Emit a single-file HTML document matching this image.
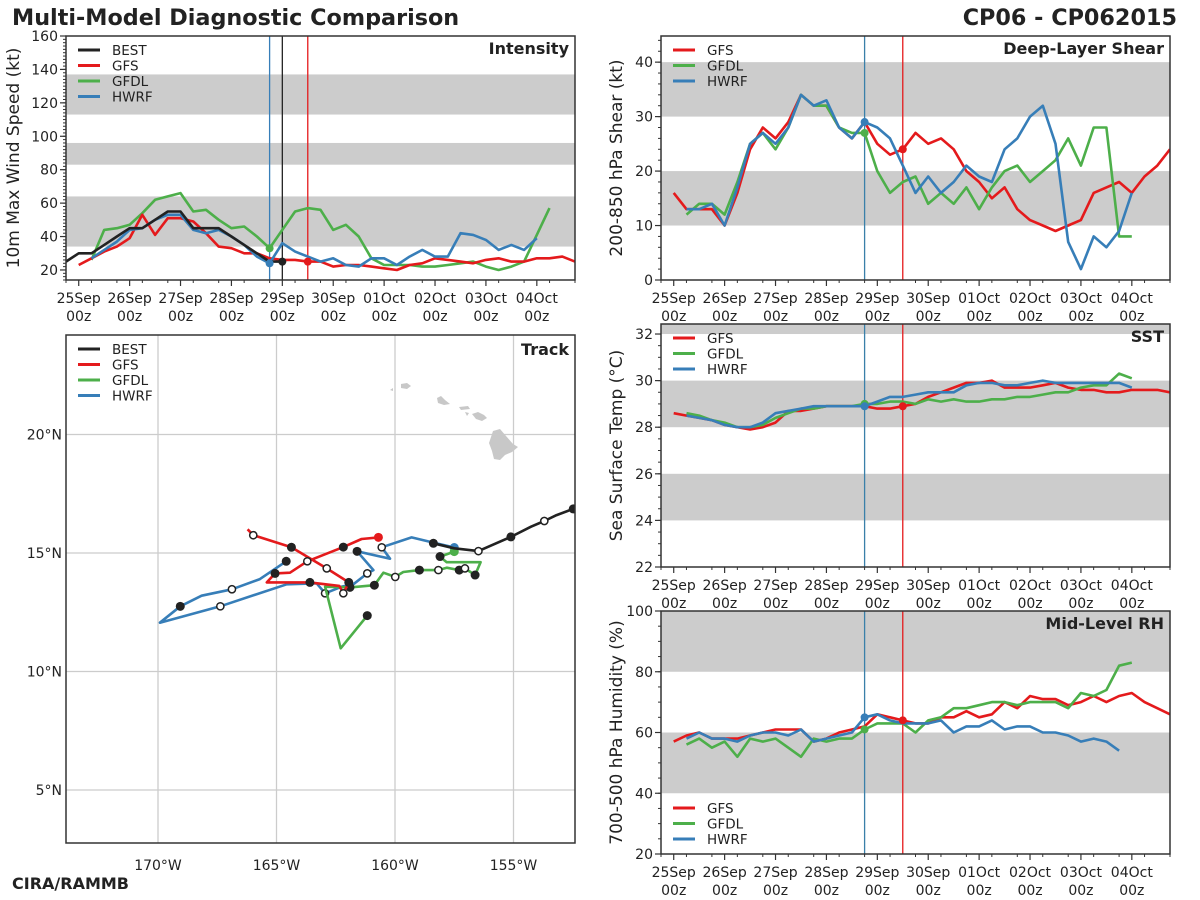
<!DOCTYPE html>
<html><head><meta charset="utf-8">
<style>
html,body{margin:0;padding:0;background:#fff;}
svg{display:block;font-family:"DejaVu Sans","Liberation Sans",sans-serif;}
</style></head>
<body>
<svg id="fig" width="1200" height="900" viewBox="0 0 1200 900" xmlns="http://www.w3.org/2000/svg">
<text x="12" y="25" font-size="22.3" font-weight="bold" fill="#222">Multi-Model Diagnostic Comparison</text>
<text x="1177" y="25" font-size="22.3" font-weight="bold" fill="#222" text-anchor="end">CP06 - CP062015</text>
<text x="12" y="889" font-size="16" font-weight="bold" fill="#222">CIRA/RAMMB</text>
</svg>
<script>
// ---------- time series data (6-hourly) ----------
const dayLabels = ["25Sep","26Sep","27Sep","28Sep","29Sep","30Sep","01Oct","02Oct","03Oct","04Oct"];
const intBestStart = -6;
const intBest = [25,30,30,35,40,45,45,50,55,55,45,45,45,40,35,30,25,25];
const intGfsStart = 0;
const intGfs = [23,27,31,34,39,53,41,51,51,49,42,34,33,30,30,27,26,26,25,25,22,23,23,22,21,20,23,24,27,26,25,24,26,27,25,25,27,27,28,25,29];
const intGfdlStart = 6;
const intGfdl = [26,44,45,47,54,62,64,66,55,56,50,45,46,40,33,44,55,57,56,44,47,40,27,23,23,23,22,22,23,24,25,22,20,22,25,41,57];
const intHwrfStart = 6;
const intHwrf = [27,32,37,44,45,50,53,53,44,42,44,40,35,28,24,36,31,28,25,27,23,22,27,27,23,28,32,28,28,42,41,38,32,35,32,39];

const shrGfsStart = 0;
const shrGfs = [16,13,13,13,10,16,24,28,26,29,34,32,32,28,26,29,25,23,24,27,25,26,24,20,18,15,17,13,11,10,9,10,11,16,17,18,16,19,21,24];
const shrGfdlStart = 6;
const shrGfdl = [12,14,14,12,18,25,27,24,28,34,32,32,28,27,27,20,16,18,19,14,16,14,17,13,17,20,21,18,20,22,26,21,28,28,8,8];
const shrHwrfStart = 6;
const shrHwrf = [13,13,14,10,17,25,27,25,28,34,32,33,28,26,29,28,26,21,16,19,16,18,21,19,18,24,26,30,32,25,7,2,8,6,9,16];

const sstGfsStart = 0;
const sstGfs = [28.6,28.5,28.4,28.3,28.1,28.0,27.9,28.0,28.2,28.7,28.7,28.8,28.9,28.9,28.9,28.9,28.8,28.8,28.9,29.0,29.3,29.5,29.7,29.9,29.9,30.0,29.7,29.7,29.7,29.8,29.9,29.7,29.6,29.6,29.5,29.5,29.6,29.6,29.6,29.5];
const sstGfdlStart = 6;
const sstGfdl = [28.6,28.5,28.3,28.2,28.0,28.0,28.1,28.4,28.6,28.8,28.8,28.9,28.9,28.9,29.0,29.0,29.1,29.1,29.0,29.2,29.1,29.2,29.1,29.1,29.2,29.2,29.3,29.3,29.4,29.5,29.5,29.7,29.8,29.8,30.3,30.1];
const sstHwrfStart = 6;
const sstHwrf = [28.5,28.4,28.3,28.1,28.0,28.0,28.2,28.6,28.7,28.8,28.9,28.9,28.9,28.9,28.9,29.1,29.3,29.3,29.4,29.5,29.5,29.5,29.8,29.9,29.9,29.8,29.8,29.9,30.0,29.9,29.9,29.9,29.9,29.9,29.9,29.7];

const rhGfsStart = 0;
const rhGfs = [57,59,60,58,58,58,59,60,61,61,61,57,58,60,61,62,66,65,64,63,63,65,65,67,65,66,70,68,72,71,71,69,70,72,70,72,73,70,68,66];
const rhGfdlStart = 6;
const rhGfdl = [56,58,55,57,52,58,57,58,55,52,58,57,58,58,61,63,63,63,60,64,65,68,68,69,70,70,69,70,70,70,68,73,72,74,82,83];
const rhHwrfStart = 6;
const rhHwrf = [58,60,58,58,57,59,60,60,59,61,57,58,59,60,65,66,64,63,63,63,64,60,62,62,64,61,62,62,60,60,59,57,58,57,54];

// ---------- track data (lon, lat) ----------
const bestLon = [-152.48,-153.18,-153.70,-154.26,-155.11,-156.48,-157.50,-158.38];
const bestLat = [16.86,16.60,16.35,16.11,15.68,15.08,15.20,15.41];
const bestFilled = [0,4,7];
const bestOpen = [2,5];
const gfsLon = [-160.70,-161.41,-162.18,-163.70,-164.43,-165.06,-165.41,-163.59,-162.35,-162.18,-161.95,-162.88,-164.37,-165.98,-166.22];
const gfsLat = [15.66,15.59,15.25,14.65,14.17,14.14,13.76,13.76,13.61,13.30,13.76,14.35,15.24,15.75,16.00];
const gfsFilled = [2,5,7,10,12];
const gfsOpen = [3,9,11,13];
const hwrfLon = [-157.50,-158.38,-159.30,-160.56,-160.21,-161.60,-160.91,-161.17,-161.76,-162.25,-162.95,-163.31,-164.57,-167.37,-169.92,-169.06,-168.16,-166.88,-165.70,-164.59];
const hwrfLat = [15.23,15.44,15.66,15.24,14.76,15.07,14.28,14.14,13.68,13.58,13.30,13.72,13.68,12.75,12.06,12.75,13.20,13.47,13.90,14.65];
const hwrfFilled = [5,15,19];
const hwrfOpen = [3,7,10,13,17];
const gfdlLon = [-157.50,-158.10,-157.82,-156.39,-156.62,-157.05,-157.29,-157.82,-158.17,-158.97,-159.65,-159.99,-160.49,-160.87,-161.90,-162.95,-162.29,-161.17];
const gfdlLat = [15.06,14.85,14.61,14.61,14.07,14.35,14.28,14.38,14.28,14.28,14.20,13.99,14.17,13.64,13.55,13.58,10.98,12.36];
const gfdlFilled = [1,4,6,9,13,14,17];
const gfdlOpen = [5,8,11];

const latTicks = [5,10,15,20];
const lonTicks = [-170,-165,-160,-155];

const C = {BEST:"#222222",GFS:"#e41a1c",GFDL:"#4daf4a",HWRF:"#377eb8"};
const NS = "http://www.w3.org/2000/svg";
const fig = document.getElementById('fig');
function el(tag, attrs, parent){
  const e = document.createElementNS(NS, tag);
  for (const k in attrs) e.setAttribute(k, attrs[k]);
  (parent||fig).appendChild(e);
  return e;
}

function panel(p){
  const g = el('g',{});
  
  
  const X = h => p.x0 + (h - (-6)) * (p.x1 - p.x0) / 240;
  const Y = v => p.y1 - (v - p.ymin) * (p.y1 - p.y0) / (p.ymax - p.ymin);
  const clip = 'clip-' + p.name;
  const cp = el('clipPath',{id:clip},g);
  el('rect',{x:p.x0,y:p.y0,width:p.x1-p.x0,height:p.y1-p.y0},cp);
  p.bands.forEach(b=>{
    const top = Math.max(Y(b[1]), p.y0);
    const r = el('rect',{x:p.x0,y:top,width:p.x1-p.x0,height:Y(b[0])-top,fill:'#cccccc'},g);
    
    
  });
  p.vlines.forEach(v=>{
    const l = el('line',{x1:X(v[0]),x2:X(v[0]),y1:p.y0,y2:p.y1,stroke:v[1],'stroke-width':1.3},g);
    
    
  });
  const sg = el('g',{'clip-path':'url(#'+clip+')'},g);
  p.series.forEach(s=>{
    const pts = s.vals.map((v,i)=>X(s.start+i*6).toFixed(1)+','+Y(v).toFixed(1)).join(' ');
    const pl = el('polyline',{points:pts,fill:'none',stroke:C[s.key],'stroke-width':2.6,'stroke-linejoin':'round'},sg);
    
    
  });
  p.dots.forEach(d=>{
    const s = p.series.find(q=>q.key===d[0]);
    const i = (d[1]-s.start)/6;
    const c = el('circle',{cx:X(d[1]),cy:Y(s.vals[i]),r:4,fill:C[d[0]]},g);
    
    
  });
  el('rect',{x:p.x0,y:p.y0,width:p.x1-p.x0,height:p.y1-p.y0,fill:'none',stroke:'#333','stroke-width':1.5},g);
  for (let v = p.ymin; v <= p.ymax + 1e-9; v = +(v + p.minor).toFixed(3)) {
    if (v < p.ymin) continue;
    el('line',{x1:p.x0-3,x2:p.x0,y1:Y(v),y2:Y(v),stroke:'#333','stroke-width':1},g);
  }
  p.ticks.forEach(v=>{
    el('line',{x1:p.x0-6,x2:p.x0,y1:Y(v),y2:Y(v),stroke:'#333','stroke-width':1.2},g);
    const t = el('text',{x:p.x0-8,y:Y(v)+5,'font-size':14,fill:'#222','text-anchor':'end'},g);
    t.textContent = v;
    
    
  });
  for (let h = -6; h <= 234; h += 12) {
    el('line',{x1:X(h),x2:X(h),y1:p.y1,y2:p.y1+3,stroke:'#333','stroke-width':1},g);
  }
  dayLabels.forEach((d,i)=>{
    const x = X(i*24);
    el('line',{x1:x,x2:x,y1:p.y1,y2:p.y1+6,stroke:'#333','stroke-width':1.2},g);
    const t = el('text',{x:x,y:p.y1+23,'font-size':14,fill:'#222','text-anchor':'middle'},g);
    t.textContent = d;
    
    
    const t2 = el('text',{x:x,y:p.y1+41,'font-size':14,fill:'#222','text-anchor':'middle'},g);
    t2.textContent = '00z';
    
    
  });
  const yt = el('text',{x:0,y:0,'font-size':17,fill:'#222','text-anchor':'middle',transform:'translate('+p.ytx+','+((p.y0+p.y1)/2)+') rotate(-90)'},g);
  yt.textContent = p.ytitle;
  
  
  const tt = el('text',{x:p.x1-6,y:p.y0+18,'font-size':16,'font-weight':'bold',fill:'#222','text-anchor':'end'},g);
  tt.textContent = p.title;
  
  
  legend(g, p.x0+12, p.legendY, p.series.map(s=>s.key).filter((k,i,a)=>a.indexOf(k)===i), p.legendKeys);
}
function legend(g, x, y, keys, order){
  (order||keys).forEach((k,i)=>{
    const lg = el('g',{},g);
    
    
    el('line',{x1:x,x2:x+22,y1:y+i*15.5,y2:y+i*15.5,stroke:C[k],'stroke-width':3},lg);
    const t = el('text',{x:x+34,y:y+i*15.5+5,'font-size':13.5,fill:'#222'},lg);
    t.textContent = k;
  });
}

panel({name:'intensity-panel',x0:66,x1:575,y0:36,y1:280,ymin:14,ymax:160,ticks:[20,40,60,80,100,120,140,160],minor:2,
  bands:[[34,64],[83,96],[113,137]],vlines:[[90,'#377eb8'],[96,'#222'],[108,'#e41a1c']],
  series:[{key:'GFDL',start:intGfdlStart,vals:intGfdl},{key:'GFS',start:intGfsStart,vals:intGfs},{key:'HWRF',start:intHwrfStart,vals:intHwrf},{key:'BEST',start:intBestStart,vals:intBest}],
  dots:[['GFDL',90],['HWRF',90],['BEST',96],['GFS',108]],legendY:50,legendKeys:['BEST','GFS','GFDL','HWRF'],
  ytitle:'10m Max Wind Speed (kt)',ytx:19,title:'Intensity'});
panel({name:'shear-panel',x0:661,x1:1170,y0:36,y1:280,ymin:0,ymax:44.8,ticks:[0,10,20,30,40],minor:2,
  bands:[[10,20],[30,40]],vlines:[[90,'#3a80a9'],[108,'#e41a1c']],
  series:[{key:'GFS',start:shrGfsStart,vals:shrGfs},{key:'GFDL',start:shrGfdlStart,vals:shrGfdl},{key:'HWRF',start:shrHwrfStart,vals:shrHwrf}],
  dots:[['GFDL',90],['HWRF',90],['GFS',108]],legendY:50,legendKeys:['GFS','GFDL','HWRF'],
  ytitle:'200-850 hPa Shear (kt)',ytx:622,title:'Deep-Layer Shear'});
panel({name:'sst-panel',x0:661,x1:1170,y0:324,y1:567,ymin:22,ymax:32.43,ticks:[22,24,26,28,30,32],minor:0.5,
  bands:[[24,26],[28,30],[32,34]],vlines:[[90,'#3a80a9'],[108,'#e41a1c']],
  series:[{key:'GFS',start:sstGfsStart,vals:sstGfs},{key:'GFDL',start:sstGfdlStart,vals:sstGfdl},{key:'HWRF',start:sstHwrfStart,vals:sstHwrf}],
  dots:[['GFDL',90],['HWRF',90],['GFS',108]],legendY:338,legendKeys:['GFS','GFDL','HWRF'],
  ytitle:'Sea Surface Temp (°C)',ytx:622,title:'SST'});
panel({name:'rh-panel',x0:661,x1:1170,y0:611,y1:854,ymin:20,ymax:100,ticks:[20,40,60,80,100],minor:5,
  bands:[[40,60],[80,100]],vlines:[[90,'#3a80a9'],[108,'#e41a1c']],
  series:[{key:'GFS',start:rhGfsStart,vals:rhGfs},{key:'GFDL',start:rhGfdlStart,vals:rhGfdl},{key:'HWRF',start:rhHwrfStart,vals:rhHwrf}],
  dots:[['GFDL',90],['HWRF',90],['GFS',108]],legendY:808,legendKeys:['GFS','GFDL','HWRF'],
  ytitle:'700-500 hPa Humidity (%)',ytx:622,title:'Mid-Level RH'});

// ---------- track map ----------
(function(){
  const x0=66,x1=575,y0=335,y1=843;
  const LX = lon => 158 + (lon + 170) * 23.7;
  const LY = lat => 553 - (lat - 15) * 23.7;
  const g = el('g',{});
  
  
  const cpth = el('clipPath',{id:'clip-track'},g);
  el('rect',{x:x0,y:y0,width:x1-x0,height:y1-y0},cpth);
  lonTicks.forEach(l=>{
    el('line',{x1:LX(l),x2:LX(l),y1:y0,y2:y1,stroke:'#cccccc','stroke-width':1.3},g);
    const t = el('text',{x:LX(l),y:870,'font-size':14,fill:'#222','text-anchor':'middle'},g);
    t.textContent = (-l)+'°W';
    
    
  });
  latTicks.forEach(l=>{
    el('line',{x1:x0,x2:x1,y1:LY(l),y2:LY(l),stroke:'#cccccc','stroke-width':1.3},g);
    const t = el('text',{x:62,y:LY(l)+5,'font-size':14,fill:'#222','text-anchor':'end'},g);
    t.textContent = l+'°N';
    
    
  });
  const isl = el('g',{fill:'#c8c8c8'},g);
  
  
  el('path',{d:'M493,431 L500,429 L506,436 L513,444 L518,447 L512,452 L505,455 L500,460 L494,459 L492,451 L489,443 Z'},isl);
  el('path',{d:'M472,414 L478,412 L484,415 L487,418 L482,421 L476,419 Z'},isl);
  el('path',{d:'M459,407 L468,406 L470,409 L461,410 Z M465,412 L469,413 L467,416 Z'},isl);
  el('path',{d:'M437,398 L441,396 L445,400 L450,404 L444,405 L438,403 Z'},isl);
  el('path',{d:'M401,384 L407,383 L411,386 L407,389 L401,388 Z M390,390 L393,388 L393,391 Z'},isl);
  const tg = el('g',{'clip-path':'url(#clip-track)'},g);
  function trk(key, lons, lats, filled, open, endDot){
    const sg = el('g',{},tg);
    
    
    el('polyline',{points:lons.map((l,i)=>LX(l).toFixed(1)+','+LY(lats[i]).toFixed(1)).join(' '),fill:'none',stroke:C[key],'stroke-width':2.6,'stroke-linejoin':'round'},sg);
    if (endDot) el('circle',{cx:LX(lons[0]),cy:LY(lats[0]),r:4.5,fill:C[key]},sg);
    filled.forEach(i=>el('circle',{cx:LX(lons[i]),cy:LY(lats[i]),r:4.5,fill:'#222'},sg));
    open.forEach(i=>el('circle',{cx:LX(lons[i]),cy:LY(lats[i]),r:3.6,fill:'#fff',stroke:'#222','stroke-width':1.5},sg));
  }
  trk('HWRF',hwrfLon,hwrfLat,hwrfFilled,hwrfOpen,true);
  trk('GFDL',gfdlLon,gfdlLat,gfdlFilled,gfdlOpen,true);
  trk('GFS',gfsLon,gfsLat,gfsFilled,gfsOpen,true);
  trk('BEST',bestLon,bestLat,bestFilled,bestOpen,false);
  el('rect',{x:x0,y:y0,width:x1-x0,height:y1-y0,fill:'none',stroke:'#333','stroke-width':1.5},g);
  const tt = el('text',{x:x1-6,y:y0+20,'font-size':16,'font-weight':'bold',fill:'#222','text-anchor':'end'},g);
  tt.textContent = 'Track';
  
  
  legend(g, x0+12, 349, [], ['BEST','GFS','GFDL','HWRF']);
})();
</script>
</body></html>
